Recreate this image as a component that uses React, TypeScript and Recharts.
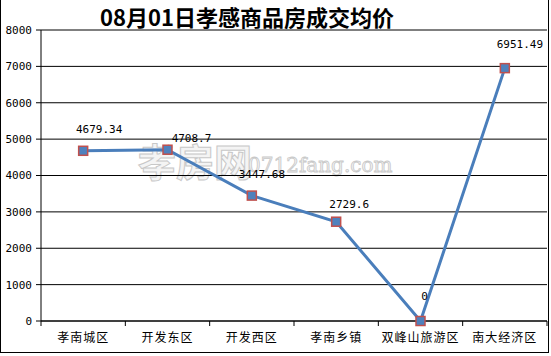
import React from 'react';
import { LineChart, Line, XAxis, YAxis, CartesianGrid, LabelList } from 'recharts';

const districts = ['孝南城区', '开发东区', '开发西区', '孝南乡镇', '双峰山旅游区', '南大经济区'];
const avgPrice = [4679.34, 4708.7, 3447.68, 2729.6, 0, 6951.49];
const priceTicks = [0, 1000, 2000, 3000, 4000, 5000, 6000, 7000, 8000];

// label nudges (dx, dy of the text centre relative to the point), as placed in the original
const labelDx = [16, 24, 10, 13, 4, 15];
const labelDy = [-22, -12, -22, -18, -25, -24];

const data = districts.map((name, i) => ({ name, value: avgPrice[i] }));

const W = 551;
const H = 356;
const PLOT_LEFT = 41;
const PLOT_RIGHT = 547;
const BAND = (PLOT_RIGHT - PLOT_LEFT) / districts.length;

const monoFont = '"DejaVu Sans Mono", monospace';
const cjkFont = '"Noto Sans CJK SC", sans-serif';

const XTick = (props: any) => {
  const { x, y, payload, index } = props;
  const half = BAND / 2;
  return (
    <g>
      <line x1={x - half} x2={x - half} y1={y} y2={y + 5} stroke="#000" />
      {index === districts.length - 1 && (
        <line x1={x + half} x2={x + half} y1={y} y2={y + 5} stroke="#000" />
      )}
      <text
        x={x}
        y={y + 21}
        textAnchor="middle"
        fontSize={12}
        letterSpacing={1}
        fontFamily={cjkFont}
        fill="#000"
      >
        {payload.value}
      </text>
    </g>
  );
};

const SquareDot = (props: any) => {
  const { cx, cy } = props;
  if (cx == null || cy == null) return null;
  return (
    <rect
      x={cx - 4.5}
      y={cy - 4.5}
      width={9}
      height={9}
      fill="#4F81BD"
      stroke="#C0504D"
      strokeWidth={1.5}
    />
  );
};

const ValueLabel = (props: any) => {
  const { x, y, value, index } = props;
  return (
    <text
      x={x + labelDx[index]}
      y={y + labelDy[index] + 4}
      textAnchor="middle"
      fontSize={11}
      fontFamily={monoFont}
      fill="#000"
    >
      {value}
    </text>
  );
};

export default function App() {
  return (
    <div style={{ position: 'fixed', left: 0, top: 0, width: W, height: H, background: '#fff' }}>
      <div
        style={{
          position: 'absolute',
          left: 0,
          top: 0,
          width: 547,
          height: 352,
          borderLeft: '1px solid #000',
          borderRight: '1px solid #000',
          borderBottom: '1px solid #000',
        }}
      />
      <svg width={W} height={H} style={{ position: 'absolute', left: 0, top: 0 }}>
        <text x={138} y={176} fontSize={38} fontFamily={cjkFont} fontWeight="bold" fill="#f4f4f4" stroke="#c8c8c8" strokeWidth={1}>
          孝房网
        </text>
        <text x={248} y={172} fontSize={20} fontFamily='"DejaVu Serif", serif' fill="#f4f4f4" stroke="#c8c8c8" strokeWidth={0.8}>
          0712fang.com
        </text>
      </svg>
      <div style={{ position: 'absolute', left: 0, top: 0 }}>
        <LineChart
          width={W}
          height={H}
          data={data}
          margin={{ top: 30, right: W - PLOT_RIGHT, bottom: 0, left: 0 }}
        >
          <CartesianGrid vertical={false} stroke="#000" strokeWidth={1} />
          <XAxis
            dataKey="name"
            scale="band"
            height={35}
            axisLine={{ stroke: '#000' }}
            tickLine={false}
            tickSize={0}
            tickMargin={0}
            interval={0}
            tick={<XTick />}
          />
          <YAxis
            width={PLOT_LEFT}
            domain={[0, 8000]}
            ticks={priceTicks}
            interval={0}
            axisLine={{ stroke: '#000' }}
            tickLine={{ stroke: '#000' }}
            tickSize={5}
            tickMargin={4}
            tick={{ fontSize: 11, fontFamily: monoFont, fill: '#000' }}
          />
          <Line
            type="linear"
            dataKey="value"
            stroke="#4A7EBB"
            strokeWidth={3}
            dot={<SquareDot />}
            activeDot={false}
            isAnimationActive={false}
          >
            <LabelList dataKey="value" content={<ValueLabel />} />
          </Line>
        </LineChart>
      </div>
      <div
        style={{
          position: 'absolute',
          left: 100,
          top: 3,
          width: 292,
          textAlign: 'center',
          fontFamily: cjkFont,
          fontSize: 22,
          fontWeight: 'bold',
          lineHeight: '26px',
          color: '#000',
          whiteSpace: 'nowrap',
        }}
      >
        08月01日孝感商品房成交均价
      </div>
    </div>
  );
}
